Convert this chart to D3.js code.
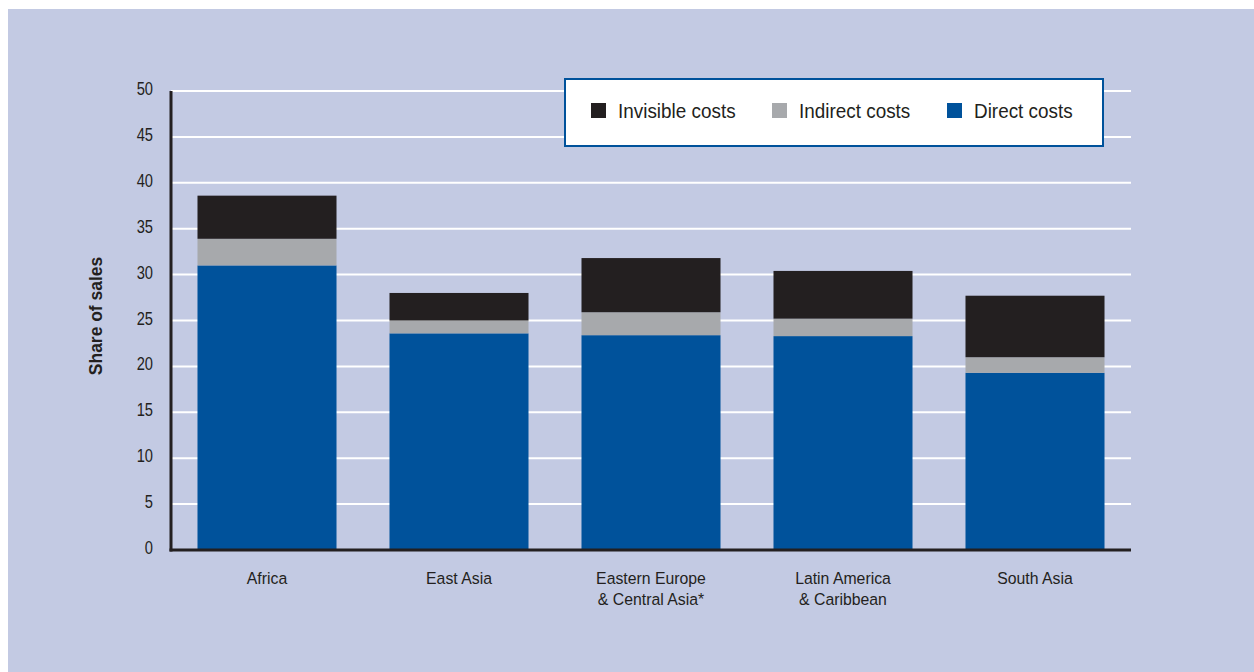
<!DOCTYPE html>
<html>
<head>
<meta charset="utf-8">
<script src="https://cdn.jsdelivr.net/npm/d3@7/dist/d3.min.js"></script>
<style>
  html, body { margin: 0; padding: 0; background: #ffffff; }
  svg { display: block; }
  text { font-family: "Liberation Sans", Arial, sans-serif; fill: #231f20; }
</style>
</head>
<body>
<svg id="chart" width="1254" height="672"></svg>
<script>
// Regions and cost components (share of sales, %)
const regionKeys = ["Africa", "East Asia", "Eastern Europe & Central Asia*", "Latin America & Caribbean", "South Asia"];
const regionLines = [
  ["Africa"],
  ["East Asia"],
  ["Eastern Europe", "& Central Asia*"],
  ["Latin America", "& Caribbean"],
  ["South Asia"]
];
const directCosts    = [31.0, 23.6, 23.4, 23.3, 19.3];
const indirectCosts  = [2.9, 1.4, 2.5, 1.9, 1.7];
const invisibleCosts = [4.7, 3.0, 5.9, 5.2, 6.7];
const seriesNames = ["Direct costs", "Indirect costs", "Invisible costs"];
const legendOrder = ["Invisible costs", "Indirect costs", "Direct costs"];
const yTicks = [0, 5, 10, 15, 20, 25, 30, 35, 40, 45, 50];

const colors = {
  "Direct costs": "#00529b",
  "Indirect costs": "#a7a9ac",
  "Invisible costs": "#231f20"
};

const svg = d3.select("#chart");

// narrow text: horizontally compressed around its anchor point
function narrowText(parent, x, y, sx, anchor) {
  return parent.append("text")
    .attr("transform", `translate(${x},${y}) scale(${sx},1)`)
    .attr("text-anchor", anchor || "start");
}

// panel background
svg.append("rect")
  .attr("x", 8).attr("y", 9)
  .attr("width", 1254 - 8).attr("height", 672 - 9)
  .attr("fill", "#c3cae3");

const x0 = 171, x1 = 1131, yTop = 91, yBottom = 550;

const x = d3.scaleBand()
  .domain(regionKeys)
  .range([x0, x1])
  .paddingInner(0.276)
  .paddingOuter(0.138);

const y = d3.scaleLinear().domain([0, 50]).range([yBottom, yTop]);

// gridlines
svg.append("g")
  .selectAll("line")
  .data(yTicks.filter(d => d > 0))
  .join("line")
  .attr("x1", x0).attr("x2", x1)
  .attr("y1", d => y(d)).attr("y2", d => y(d))
  .attr("stroke", "#ffffff")
  .attr("stroke-width", 2);

// stacked bars
const table = regionKeys.map((k, i) => ({
  region: k,
  "Direct costs": directCosts[i],
  "Indirect costs": indirectCosts[i],
  "Invisible costs": invisibleCosts[i]
}));
const stacked = d3.stack().keys(seriesNames)(table);

svg.append("g")
  .selectAll("g")
  .data(stacked)
  .join("g")
  .attr("fill", d => colors[d.key])
  .selectAll("rect")
  .data(d => d)
  .join("rect")
  .attr("x", d => x(d.data.region))
  .attr("width", x.bandwidth())
  .attr("y", d => y(d[1]))
  .attr("height", d => y(d[0]) - y(d[1]));

// y axis with compressed tick labels
const tickSx = 0.84;
const yAxis = svg.append("g")
  .attr("transform", `translate(${x0},0)`)
  .call(d3.axisLeft(y).tickValues(yTicks).tickSize(0).tickPadding(0));
yAxis.select(".domain").remove();
yAxis.selectAll(".tick text")
  .attr("x", 0)
  .attr("dy", null)
  .attr("transform", `translate(-18,3.5) scale(${tickSx},1)`)
  .style("font-size", "17.5px")
  .attr("fill", "#231f20");

svg.append("line")
  .attr("x1", x0).attr("x2", x0)
  .attr("y1", yTop).attr("y2", yBottom + 1.5)
  .attr("stroke", "#231f20").attr("stroke-width", 3);

// x axis baseline
svg.append("line")
  .attr("x1", x0 - 1.5).attr("x2", x1)
  .attr("y1", yBottom).attr("y2", yBottom)
  .attr("stroke", "#231f20").attr("stroke-width", 3);

// category labels
const xl = svg.append("g");
regionKeys.forEach((k, i) => {
  const cx = x(k) + x.bandwidth() / 2;
  const t = narrowText(xl, cx, 584, 0.93, "middle").style("font-size", "17px");
  regionLines[i].forEach((line, j) => {
    t.append("tspan")
      .attr("x", 0)
      .attr("dy", j === 0 ? 0 : 21)
      .text(line);
  });
});

// y axis title
svg.append("text")
  .attr("transform", `translate(102,316) rotate(-90) scale(0.97,1)`)
  .attr("text-anchor", "middle")
  .style("font-size", "18px")
  .style("font-weight", "bold")
  .text("Share of sales");

// legend
const lg = svg.append("g");
lg.append("rect")
  .attr("x", 565).attr("y", 79)
  .attr("width", 538).attr("height", 67)
  .attr("fill", "#ffffff")
  .attr("stroke", "#00529b")
  .attr("stroke-width", 2);

const legendX = [591, 772, 947];
legendOrder.forEach((name, i) => {
  lg.append("rect")
    .attr("x", legendX[i]).attr("y", 103)
    .attr("width", 15).attr("height", 15)
    .attr("fill", colors[name]);
  narrowText(lg, legendX[i] + 27, 118, 0.9)
    .style("font-size", "21px")
    .text(name);
});
</script>
</body>
</html>
